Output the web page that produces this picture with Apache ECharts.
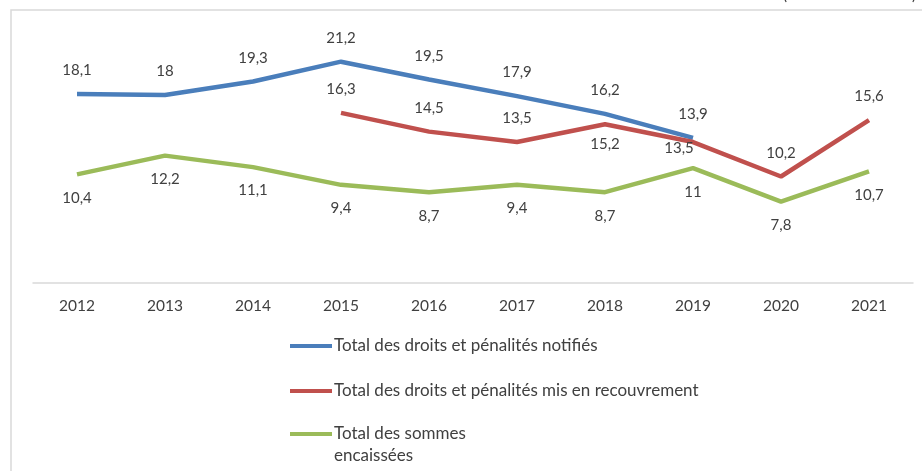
<!DOCTYPE html>
<html><head><meta charset="utf-8">
<script src="https://cdn.jsdelivr.net/npm/echarts@6/dist/echarts.min.js"></script>
<style>html,body{margin:0;padding:0;background:#fff}#c{width:922px;height:471px}</style>
</head><body><div id="c"></div>
<script>
const years = ['2012','2013','2014','2015','2016','2017','2018','2019','2020','2021'];
const notifies = [18.1, 18, 19.3, 21.2, 19.5, 17.9, 16.2, 13.9, null, null];
const recouvrement = [null, null, null, 16.3, 14.5, 13.5, 15.2, 13.5, 10.2, 15.6];
const encaissees = [10.4, 12.2, 11.1, 9.4, 8.7, 9.4, 8.7, 11, 7.8, 10.7];
const names = ['Total des droits et pénalités notifiés', 'Total des droits et pénalités mis en recouvrement', 'Total des sommes encaissées'];
const recouvrementBelowYears = ['2018', '2019'];

const fmt = v => String(v).replace('.', ',');
const FONT = 'Lato';
const TXT = '#404040';
const COLORS = ['#4a7ebb', '#c0504d', '#9bbb59'];
// label nudges (style only, keyed by series index + year)
const labelNudge = { '1-2018': [0, -4], '1-2019': [-14, -17] };

function mk(values, si, posFn) {
  return values.map((v, i) => {
    if (v == null) return null;
    const lab = { position: posFn(years[i]) };
    const n = labelNudge[si + '-' + years[i]];
    if (n) lab.offset = n;
    return { value: v, label: lab };
  });
}

const chart = echarts.init(document.getElementById('c'), null, { renderer: 'canvas' });
const lbl = { show: true, distance: 16, fontFamily: FONT, fontSize: 15, color: TXT, formatter: p => fmt(p.value) };
const lineIcon = 'path://M0,0 L42,0 L42,4 L0,4 Z';
function leg(i, top, extra) {
  return Object.assign({
    orient: 'vertical', left: 290, top: top, padding: 0, itemWidth: 42, itemHeight: 4, itemGap: 4,
    icon: lineIcon,
    textStyle: { fontFamily: FONT, fontSize: 17, color: TXT, lineHeight: 22, padding: [0, 0, 0, -3] },
    data: [{ name: names[i], itemStyle: { color: COLORS[i] } }]
  }, extra || {});
}
const series = [notifies, recouvrement, encaissees].map((vals, i) => ({
  name: names[i], type: 'line', symbol: 'circle', symbolSize: 0, showSymbol: true,
  data: mk(vals, i, i === 0 ? () => 'top' : i === 2 ? () => 'bottom' : (y => recouvrementBelowYears.includes(y) ? 'bottom' : 'top')),
  lineStyle: { color: COLORS[i], width: 4.5 }, itemStyle: { color: COLORS[i] }, label: lbl
}));

chart.setOption({
  animation: false,
  grid: { left: 33, right: 9, top: 22, bottom: 188, containLabel: false },
  xAxis: {
    type: 'category', data: years, boundaryGap: true,
    axisLine: { lineStyle: { color: '#d9d9d9', width: 1.5 } },
    axisTick: { show: false },
    axisLabel: { fontFamily: FONT, fontSize: 15.5, color: TXT, margin: 15 }
  },
  yAxis: { type: 'value', min: 0, max: 25, show: false, splitLine: { show: false } },
  legend: [
    leg(0, 335),
    leg(1, 380),
    leg(2, 401, { formatter: () => '\nTotal des sommes\nencaissées' })
  ],
  graphic: [
    { type: 'rect', shape: { x: 11, y: 10, width: 1000, height: 500 }, style: { fill: 'none', stroke: '#d9d9d9', lineWidth: 1.5 }, silent: true },
    { type: 'text', right: 6, top: -12, style: { text: '(en milliards d\'euros)', font: '15px Lato', fill: TXT } }
  ],
  series: series
});
</script></body></html>
